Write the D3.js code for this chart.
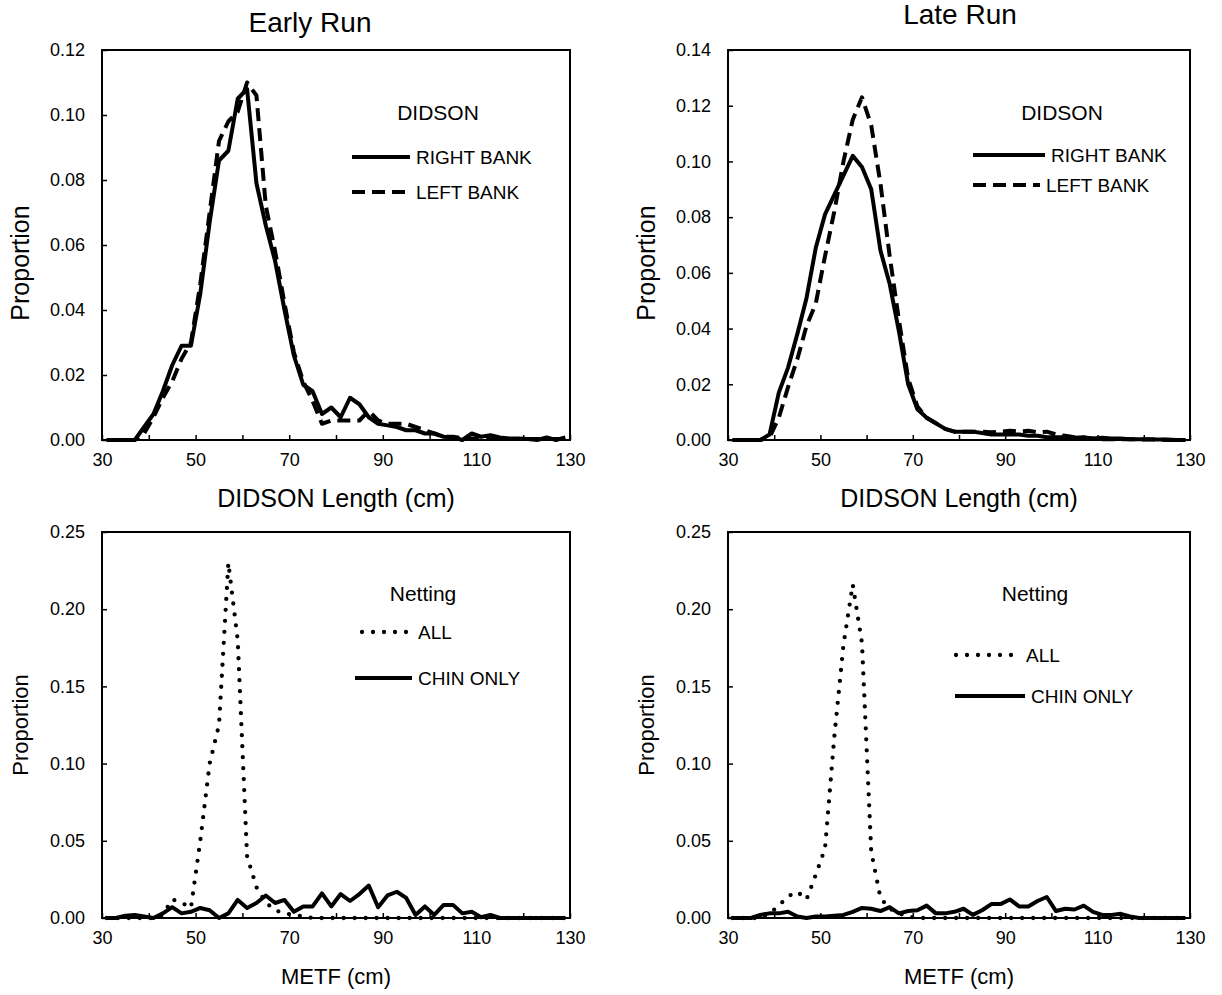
<!DOCTYPE html>
<html>
<head>
<meta charset="utf-8">
<script src="https://cdn.jsdelivr.net/npm/d3@7/dist/d3.min.js"></script>
<style>
  html, body { margin: 0; padding: 0; background: #fff; }
  svg { display: block; font-family: "Liberation Sans", Arial, sans-serif; }
</style>
</head>
<body>
<svg id="chart" width="1222" height="995"></svg>
<script>
// Length bins (cm, bin midpoints)
const lengthBins = [31,33,35,37,39,41,43,45,47,49,51,53,55,57,59,61,63,65,67,69,
  71,73,75,77,79,81,83,85,87,89,91,93,95,97,99,101,103,105,107,109,
  111,113,115,117,119,121,123,125,127,129];

// Early run, DIDSON length proportions
const earlyRightBank = [0,0,0,0,0.004,0.008,0.015,0.023,0.029,0.029,
  0.045,0.067,0.086,0.089,0.105,0.108,0.079,0.066,0.055,0.040,
  0.026,0.017,0.015,0.008,0.010,0.007,0.013,0.011,0.007,0.005,
  0.0045,0.004,0.003,0.003,0.002,0.002,0.001,0.0008,0,0.002,
  0.001,0.0015,0.0008,0.0005,0.0005,0.0003,0,0.0008,0,0.0008];
const earlyLeftBank = [0,0,0,0,0.002,0.007,0.013,0.018,0.025,0.030,
  0.048,0.070,0.092,0.098,0.101,0.110,0.106,0.072,0.058,0.042,
  0.027,0.018,0.012,0.005,0.006,0.006,0.006,0.006,0.009,0.006,
  0.005,0.005,0.005,0.004,0.003,0.002,0.001,0.001,0.0005,0.0005,
  0.0005,0.0005,0.0005,0.0003,0.0003,0.0003,0.0003,0.0003,0.0003,0.0003];

// Late run, DIDSON length proportions
const lateRightBank = [0,0,0,0,0.002,0.017,0.026,0.038,0.051,0.069,
  0.081,0.088,0.095,0.102,0.098,0.090,0.068,0.056,0.039,0.020,
  0.011,0.008,0.006,0.004,0.003,0.003,0.003,0.0025,0.002,0.002,
  0.002,0.002,0.0015,0.0015,0.001,0.001,0.001,0.0008,0.001,0.0005,
  0.0008,0.0005,0.0005,0.0003,0.0003,0.0003,0.0002,0.0002,0,0];
const lateLeftBank = [0,0,0,0,0.001,0.008,0.019,0.029,0.041,0.049,
  0.066,0.082,0.100,0.115,0.123,0.113,0.092,0.066,0.043,0.022,
  0.012,0.008,0.006,0.004,0.003,0.003,0.003,0.003,0.0028,0.003,
  0.0033,0.003,0.0033,0.0028,0.003,0.002,0.0015,0.001,0.0008,0.0005,
  0.0003,0.0003,0.0003,0.0003,0.0002,0.0002,0.0002,0,0,0];

// Early run, netting METF proportions
const earlyAll = [0,0,0,0,0,0,0.002,0.012,0.010,0.0065,
  0.050,0.100,0.125,0.230,0.180,0.040,0.020,0.010,0.005,0.003,
  0.002,0.001,0,0,0,0,0,0,0,0,
  0,0,0,0,0,0,0,0,0,0,
  0,0,0,0,0,0,0,0,0,0];
const earlyChinOnly = [0,0,0.0015,0.002,0.001,0,0.003,0.007,0.003,0.004,
  0.0065,0.005,0,0.003,0.0117,0.0065,0.0097,0.0146,0.0097,0.0117,
  0.004,0.0075,0.0075,0.016,0.0075,0.0155,0.011,0.0155,0.021,0.007,
  0.0146,0.017,0.013,0.002,0.0075,0.002,0.0085,0.0085,0.003,0.004,
  0.0005,0.002,0,0,0,0,0,0,0,0];

// Late run, netting METF proportions
const lateAll = [0,0,0,0,0.003,0.008,0.014,0.017,0.012,0.028,
  0.045,0.117,0.177,0.216,0.178,0.043,0.013,0.006,0.003,0.001,
  0,0,0,0,0,0,0,0,0,0,
  0,0,0,0,0,0,0,0,0,0,
  0,0,0,0,0,0,0,0,0,0];
const lateChinOnly = [0,0,0,0.002,0.003,0.003,0.004,0.001,0,0.001,
  0.001,0.0015,0.002,0.004,0.0065,0.006,0.0045,0.007,0.003,0.0045,
  0.005,0.008,0.003,0.003,0.004,0.006,0.002,0.005,0.009,0.009,
  0.012,0.0075,0.0075,0.011,0.0136,0.0045,0.006,0.0055,0.008,0.004,
  0.002,0.002,0.0027,0.001,0,0,0,0,0,0];

// Axis ticks
const xTicks = [30,40,50,60,70,80,90,100,110,120,130];
const xTickLabels = [30,50,70,90,110,130];
const yTicksDidsonEarly = [0,0.02,0.04,0.06,0.08,0.10,0.12];
const yTicksDidsonLate = [0,0.02,0.04,0.06,0.08,0.10,0.12,0.14];
const yTicksNetting = [0,0.05,0.10,0.15,0.20,0.25];

// Line styles
const styles = {
  solid:  { width: 4, dash: null, cap: "butt" },
  dashed: { width: 4, dash: "13,7", cap: "butt" },
  dotted: { width: 4.3, dash: "0,11", cap: "round" }
};

const panels = [
  { title: "Early Run", titlePos: [310, 22], xLabel: "DIDSON Length (cm)", axisFont: 25, yLabelY: 263,
    box: { l: 102, r: 570, t: 50, b: 440 }, yTicks: yTicksDidsonEarly,
    legendTitle: "DIDSON", legendTitlePos: [438, 113],
    series: [
      { name: "RIGHT BANK", values: earlyRightBank, style: "solid", leg: [352, 410, 157] },
      { name: "LEFT BANK", values: earlyLeftBank, style: "dashed", leg: [352, 410, 192] }
    ] },
  { title: "Late Run", titlePos: [960, 14], xLabel: "DIDSON Length (cm)", axisFont: 25, yLabelY: 263,
    box: { l: 728, r: 1190, t: 50, b: 440 }, yTicks: yTicksDidsonLate,
    legendTitle: "DIDSON", legendTitlePos: [1062, 113],
    series: [
      { name: "RIGHT BANK", values: lateRightBank, style: "solid", leg: [973, 1045, 155] },
      { name: "LEFT BANK", values: lateLeftBank, style: "dashed", leg: [973, 1040, 185] }
    ] },
  { title: null, xLabel: "METF (cm)", axisFont: 22, yLabelY: 725,
    box: { l: 102, r: 570, t: 532, b: 918 }, yTicks: yTicksNetting,
    legendTitle: "Netting", legendTitlePos: [423, 594],
    series: [
      { name: "ALL", values: earlyAll, style: "dotted", leg: [362, 412, 632] },
      { name: "CHIN ONLY", values: earlyChinOnly, style: "solid", leg: [355, 412, 678] }
    ] },
  { title: null, xLabel: "METF (cm)", axisFont: 22, yLabelY: 725,
    box: { l: 728, r: 1190, t: 532, b: 918 }, yTicks: yTicksNetting,
    legendTitle: "Netting", legendTitlePos: [1035, 594],
    series: [
      { name: "ALL", values: lateAll, style: "dotted", leg: [956, 1020, 655] },
      { name: "CHIN ONLY", values: lateChinOnly, style: "solid", leg: [955, 1025, 696] }
    ] }
];

const svg = d3.select("#chart");
const fmt2 = d3.format(".2f");

panels.forEach(p => {
  const { l, r, t, b } = p.box;
  const x = d3.scaleLinear().domain([30, 130]).range([l, r]);
  const yMax = p.yTicks[p.yTicks.length - 1];
  const y = d3.scaleLinear().domain([0, yMax]).range([b, t]);
  const g = svg.append("g");

  // x axis with inward ticks, labels every 20 cm
  const xAxis = d3.axisBottom(x).tickValues(xTicks).tickSize(-5).tickPadding(13)
    .tickFormat(d => xTickLabels.includes(d) ? d : "");
  const gx = g.append("g").attr("transform", `translate(0,${b})`).call(xAxis);
  gx.select(".domain").remove();
  gx.selectAll("line").attr("stroke", "#000").attr("stroke-width", 1.5);
  gx.selectAll("text").attr("font-size", 18).attr("fill", "#000");

  const yAxis = d3.axisLeft(y).tickValues(p.yTicks).tickSize(-5).tickPadding(17).tickFormat(fmt2);
  const gy = g.append("g").attr("transform", `translate(${l},0)`).call(yAxis);
  gy.select(".domain").remove();
  gy.selectAll("line").attr("stroke", "#000").attr("stroke-width", 1.5);
  gy.selectAll("text").attr("font-size", 18).attr("fill", "#000");

  // series curves
  const line = d3.line().x((d, i) => x(lengthBins[i])).y(d => y(d));
  p.series.forEach(s => {
    const st = styles[s.style];
    g.append("path").datum(s.values).attr("d", line)
      .attr("fill", "none").attr("stroke", "#000")
      .attr("stroke-width", st.width).attr("stroke-linecap", st.cap)
      .attr("stroke-linejoin", "round")
      .attr("stroke-dasharray", st.dash);
  });

  // plot frame
  g.append("rect").attr("x", l).attr("y", t).attr("width", r - l).attr("height", b - t)
    .attr("fill", "none").attr("stroke", "#000").attr("stroke-width", 2);

  // axis titles
  g.append("text").attr("x", (l + r) / 2).attr("y", b + 58).attr("dy", "0.35em")
    .attr("text-anchor", "middle").attr("font-size", p.axisFont).text(p.xLabel);
  g.append("text").attr("transform", `translate(${l - 82},${p.yLabelY}) rotate(-90)`)
    .attr("dy", "0.35em").attr("text-anchor", "middle").attr("font-size", p.axisFont).text("Proportion");

  if (p.title) {
    g.append("text").attr("x", p.titlePos[0]).attr("y", p.titlePos[1])
      .attr("dy", "0.35em").attr("text-anchor", "middle").attr("font-size", 28).text(p.title);
  }

  // legend
  g.append("text").attr("x", p.legendTitlePos[0]).attr("y", p.legendTitlePos[1])
    .attr("dy", "0.35em").attr("text-anchor", "middle").attr("font-size", 21).text(p.legendTitle);
  p.series.forEach(s => {
    const st = styles[s.style];
    const [x0, x1, ly] = s.leg;
    g.append("line").attr("x1", x0).attr("x2", x1).attr("y1", ly).attr("y2", ly)
      .attr("stroke", "#000").attr("stroke-width", st.width)
      .attr("stroke-linecap", st.cap).attr("stroke-dasharray", st.dash);
    g.append("text").attr("x", x1 + 6).attr("y", ly).attr("dy", "0.35em")
      .attr("font-size", 19).text(s.name);
  });
});
</script>
</body>
</html>
